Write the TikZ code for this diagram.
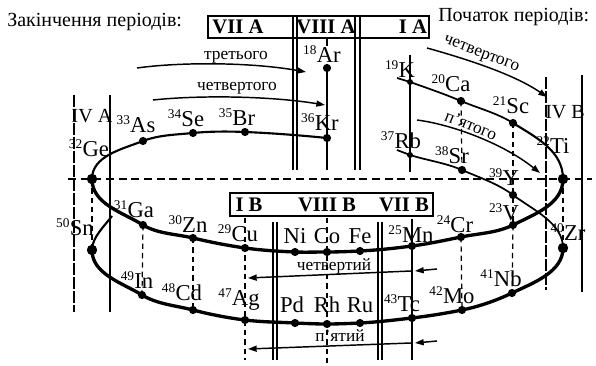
\documentclass[tikz,border=0pt]{standalone}
\usepackage{fontspec}
\setmainfont{Liberation Serif}
\usetikzlibrary{arrows.meta}
\newcommand\elm[2]{\raisebox{6.5pt}{\fontsize{10}{10}\selectfont #1}\kern0.2pt#2}
\begin{document}
\begin{tikzpicture}[x=0.75pt,y=-0.75pt,
  lbl/.style={font=\fontsize{17}{17}\selectfont,anchor=base,inner sep=0pt},
  hdr/.style={font=\fontsize{15}{15}\selectfont,anchor=base west,inner sep=0pt},
  grp/.style={font=\bfseries\fontsize{15.5}{15.5}\selectfont,anchor=base,inner sep=0pt},
  col/.style={font=\fontsize{15}{15}\selectfont,anchor=base,inner sep=0pt},
  alab/.style={font=\fontsize{13}{13}\selectfont,inner sep=0pt},
  thinln/.style={line width=0.8pt},
  p4/.style={line width=2.5pt},
  p4a/.style={line width=1.6pt},
  rarc/.style={line width=1.3pt},
  grpdash/.style={line width=0.9pt,dash pattern=on 4pt off 3pt},
  coldash/.style={line width=0.8pt,dash pattern=on 9pt off 1.5pt},
  hdash/.style={line width=0.9pt,dash pattern=on 6pt off 3.5pt},
  arr/.style={line width=1.1pt,-{Triangle[length=6.5pt,width=4.5pt]}},
  boxln/.style={line width=1.2pt},
]
\fill[white] (0,0) rectangle (596,366);
\useasboundingbox (0,0) rectangle (596,366);

% ---------- points ----------
\coordinate (s4) at (397,78);
\coordinate (K) at (410,82);
\coordinate (Ca) at (461,101);
\coordinate (Sc) at (513,123);
\coordinate (Ti) at (563,179);
\coordinate (V) at (513,225);
\coordinate (Cr) at (461,237);
\coordinate (Mn) at (412,246);
\coordinate (Fe) at (360,251);
\coordinate (Co) at (327,252);
\coordinate (Ni) at (295,252);
\coordinate (Cu) at (245,248);
\coordinate (Zn) at (193,238);
\coordinate (Ga) at (143,225);
\coordinate (Ge) at (92,179);
\coordinate (As) at (143,141);
\coordinate (Se) at (193,133);
\coordinate (Br) at (245,132);
\coordinate (Kr) at (327,138);
\coordinate (Ar) at (327,68);

\coordinate (s5) at (397,150);
\coordinate (Rb) at (410,155);
\coordinate (Sr) at (462,170);
\coordinate (Y) at (513,195);
\coordinate (Zr) at (563,248);
\coordinate (Nb) at (512,293);
\coordinate (Mo) at (462,310);
\coordinate (Tc) at (412,318);
\coordinate (Ru) at (360,323);
\coordinate (Rh) at (327,324);
\coordinate (Pd) at (295,323);
\coordinate (Ag) at (245,320);
\coordinate (Cd) at (193,310);
\coordinate (In) at (142,295);
\coordinate (Sn) at (92,250);
\coordinate (e5) at (112,216);

% ---------- boxes ----------
\draw[boxln] (208,16) rectangle (429,38);
\draw[boxln] (230,193) rectangle (433,216);

% ---------- column lines ----------
\coordinate (ivaLT) at (74,95);   \coordinate (ivaLB) at (74,312);
\coordinate (ivaRT) at (110,95);  \coordinate (ivaRB) at (110,312);
\draw[coldash] (ivaLT) -- (ivaLB);
\draw[thinln] (ivaRT) -- (ivaRB);
\coordinate (ivbLT) at (546,77);  \coordinate (ivbLB) at (546,290);
\coordinate (ivbRT) at (582,75);  \coordinate (ivbRB) at (582,292);
\draw[coldash] (ivbLT) -- (ivbLB);
\draw[thinln] (ivbRT) -- (ivbRB);
\foreach \xx in {293,297,355,360} {\draw[thinln] (\xx,16) -- (\xx,170);}
\foreach \xx in {273,277,378,382} {\draw[thinln] (\xx,222) -- (\xx,360);}

% horizontal dashed axis
\coordinate (hL) at (68,179); \coordinate (hR) at (592,179);
\draw[hdash] (hL) -- (hR);

% ---------- group connectors ----------
\draw[grpdash] (Ge) -- (Sn);
\draw[grpdash] (Ga) -- (In);
\draw[grpdash] (Zn) -- (Cd);
\draw[grpdash] (Cr) -- (Mo);
\draw[grpdash] (V) -- (Nb);
\draw[grpdash] (Sc) -- (V);
\draw[grpdash] (Ca) -- (Sr);
\draw[grpdash] (Ti) -- (Zr);
\coordinate (cuT) at (245,218); \coordinate (cuB) at (245,360);
\draw[grpdash] (cuT) -- (cuB);
\coordinate (coT) at (327,218); \coordinate (coB) at (327,363);
\draw[grpdash] (coT) -- (coB);
\coordinate (mnT) at (412,219); \coordinate (mnB) at (412,360);
\draw[thinln] (mnT) -- (mnB);
\coordinate (kT) at (410,55); \coordinate (kB) at (410,172);
\draw[thinln] (kT) -- (kB);
\coordinate (arT) at (327,38); \coordinate (arT2) at (327,46);
\draw[thinln] (arT) -- (arT2);
\coordinate (krB) at (327,170);
\draw[line width=1.8pt] (Ar) -- (krB);

% ---------- period 4 ----------
\draw[rarc] (s4) -- (K) .. controls +(17,6) and +(-16.6,-7) .. (Ca)
  .. controls +(17.5,7.4) and +(-16,-10) .. (Sc);
\draw[p4a] (Sc) .. controls +(24,15) and +(0,-28) .. (Ti);
\draw[p4] (Ti) .. controls +(0,25) and +(22,-11) .. (V)
  .. controls +(-16,8) and +(17.6,-3.6) .. (Cr)
  .. controls +(-16.2,3.3) and +(16.3,-2.1) .. (Mn)
  .. controls +(-17.3,2.3) and +(17.5,-0.9) .. (Fe)
  .. controls +(-11,0.5) and +(11,0) .. (Co)
  .. controls +(-10.7,0) and +(10.7,0.4) .. (Ni)
  .. controls +(-16.7,-0.7) and +(16.4,2.3) .. (Cu)
  .. controls +(-17.3,-2.5) and +(17.2,4.1) .. (Zn)
  .. controls +(-16.7,-4) and +(14.6,8.9) .. (Ga)
  .. controls +(-21,-13) and +(0,25) .. (Ge);
\draw[p4a] (Ge) .. controls +(0,-23) and +(-21.4,8.3) .. (As)
  .. controls +(15.8,-6.1) and +(-16.9,1.7) .. (Se)
  .. controls +(17.2,-1.7) and +(-17.3,-0.7) .. (Br)
  .. controls +(27,1.1) and +(-27,-2.7) .. (Kr);

% ---------- period 5 ----------
\draw[rarc] (s5) -- (Rb) .. controls +(17,5.4) and +(-16.6,-7.2) .. (Sr)
  .. controls +(17.5,7.6) and +(-15.2,-11.4) .. (Y)
  .. controls +(20,15) and +(0,-25) .. (Zr);
\draw[p4] (Zr) .. controls +(0,24) and +(21.6,-10.3) .. (Nb)
  .. controls +(-15.8,7.6) and +(17.2,-3.5) .. (Mo)
  .. controls +(-16.7,3.4) and +(16.8,-2) .. (Tc)
  .. controls +(-17.2,2) and +(17.4,-0.9) .. (Ru)
  .. controls +(-11,0.5) and +(11,0) .. (Rh)
  .. controls +(-10.7,0) and +(10.7,0.5) .. (Pd)
  .. controls +(-17.3,-0.9) and +(17,2.1) .. (Ag)
  .. controls +(-16.7,-2) and +(16.3,4.3) .. (Cd)
  .. controls +(-17,-4.4) and +(15,9.2) .. (In)
  .. controls +(-20.4,-12.5) and +(0,24) .. (Sn);
\draw[p4a] (Sn) .. controls +(0,-12.5) and +(-7.5,10) .. (e5);

% ---------- dots ----------
\foreach \p in {Ge,Ti,Zr,Sn} {\fill (\p) circle[radius=5.2];}
\foreach \p in {Ca,Sc,V,Cr,Mn,Fe,Co,Ni,Cu,Zn,Ga,As,Se,Br,Kr,Ar,Sr,Y,Nb,Mo,Tc,Ru,Rh,Pd,Ag,Cd,In} {\fill (\p) circle[radius=4.1];}
\foreach \p in {K,Rb} {\fill (\p) circle[radius=3];}

% ---------- arrows ----------
\coordinate (a3s) at (137,68); \coordinate (a3e) at (306,72);
\draw[arr] (a3s) .. controls (180,62) and (250,62) .. (a3e);
\coordinate (a4s) at (153,100); \coordinate (a4e) at (325,105);
\draw[arr] (a4s) .. controls (200,95) and (270,96) .. (a4e);
\coordinate (b4s) at (427,48); \coordinate (b4e) at (547,97);
\draw[arr] (b4s) .. controls (470,60) and (515,75) .. (b4e);
\coordinate (b5s) at (417,120); \coordinate (b5e) at (540,173);
\draw[arr] (b5s) .. controls (455,125) and (505,145) .. (b5e);
\coordinate (c4s) at (437,269); \coordinate (c4m) at (415,271);
\coordinate (c4m2) at (411,271); \coordinate (c4e) at (248,278);
\draw[arr] (c4s) -- (c4m);
\draw[arr] (c4m2) -- (c4e);
\coordinate (c5s) at (437,341); \coordinate (c5m) at (415,343);
\coordinate (c5m2) at (411,343); \coordinate (c5e) at (248,349);
\draw[arr] (c5s) -- (c5m);
\draw[arr] (c5m2) -- (c5e);

% ---------- texts ----------
\node[hdr] (hdrL) at (7,27) {Закінчення періодів:};
\node[hdr] (hdrR) at (438,22) {Початок періодів:};
\node[grp] (gVIIA) at (238,34) {VII A};
\node[grp] (gVIIIA) at (326,34) {VIII A};
\node[grp] (gIA) at (413,34) {I A};
\node[grp] (gIB) at (249,212) {I B};
\node[grp] (gVIIIB) at (327,212) {VIII B};
\node[grp] (gVIIB) at (404,212) {VII B};
\node[col] (cIVA) at (92,123) {IV A};
\node[col] (cIVB) at (565,119) {IV B};

\node[alab,anchor=base] (t3) at (236,60) {третього};
\node[alab,anchor=base] (t4) at (237,91) {четвертого};
\node[alab,rotate=-21] (s4lab) at (481,55) {четвертого};
\node[alab,rotate=-22] (s5lab) at (471,125) {п’ятого};
\node[alab,anchor=base] (b4) at (334,271) {четвертий};
\node[alab,anchor=base] (b5) at (340,342) {п’ятий};

\node[lbl] (lAr) at (322,63) {\elm{18}{Ar}};
\node[lbl] (lK) at (400,78) {\elm{19}{K}};
\node[lbl] (lCa) at (451,92) {\elm{20}{Ca}};
\node[lbl] (lSc) at (511,114) {\elm{21}{Sc}};
\node[lbl] (lTi) at (553,154) {\elm{22}{Ti}};
\node[lbl] (lV) at (504,221) {\elm{23}{V}};
\node[lbl] (lCr) at (455,233) {\elm{24}{Cr}};
\node[lbl] (lMn) at (411,243) {\elm{25}{Mn}};
\node[lbl] (lFe) at (360,244) {Fe};
\node[lbl] (lCo) at (327,244) {Co};
\node[lbl] (lNi) at (295,244) {Ni};
\node[lbl] (lCu) at (238,242) {\elm{29}{Cu}};
\node[lbl] (lZn) at (188,233) {\elm{30}{Zn}};
\node[lbl] (lGa) at (134,218) {\elm{31}{Ga}};
\node[lbl] (lGe) at (89,157) {\elm{32}{Ge}};
\node[lbl] (lAs) at (136,133) {\elm{33}{As}};
\node[lbl] (lSe) at (186,127) {\elm{34}{Se}};
\node[lbl] (lBr) at (237,126) {\elm{35}{Br}};
\node[lbl] (lKr) at (320,131) {\elm{36}{Kr}};
\node[lbl] (lRb) at (401,149) {\elm{37}{Rb}};
\node[lbl] (lSr) at (452,164) {\elm{38}{Sr}};
\node[lbl] (lY) at (504,186) {\elm{39}{Y}};
\node[lbl] (lZr) at (568,241) {\elm{40}{Zr}};
\node[lbl] (lNb) at (501,287) {\elm{41}{Nb}};
\node[lbl] (lMo) at (452,304) {\elm{42}{Mo}};
\node[lbl] (lTc) at (402,312) {\elm{43}{Tc}};
\node[lbl] (lRu) at (360,313) {Ru};
\node[lbl] (lRh) at (327,313) {Rh};
\node[lbl] (lPd) at (292,313) {Pd};
\node[lbl] (lAg) at (239,306) {\elm{47}{Ag}};
\node[lbl] (lCd) at (182,301) {\elm{48}{Cd}};
\node[lbl] (lIn) at (137,289) {\elm{49}{In}};
\node[lbl] (lSn) at (75,236) {\elm{50}{Sn}};
\end{tikzpicture}
\end{document}
